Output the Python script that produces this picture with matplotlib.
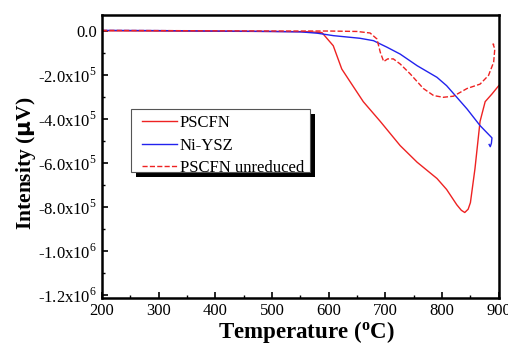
import matplotlib.pyplot as plt
from matplotlib.ticker import MultipleLocator, FuncFormatter
import matplotlib.patches as mpatches

plt.rcParams['font.family'] = 'Liberation Serif'
plt.rcParams['mathtext.fontset'] = 'custom'
plt.rcParams['mathtext.rm'] = 'Liberation Serif'

# PSCFN (reduced)
t_pscfn = [200, 300, 400, 500, 560, 588, 608, 623, 638, 661, 691, 726, 756, 791,
           808, 826, 834, 840, 846, 850, 858, 867, 876, 888, 900]
i_pscfn = [0.03e5, 0.02e5, 0.01e5, 0.0, -0.01e5, -0.05e5, -0.65e5, -1.71e5, -2.3e5,
           -3.2e5, -4.1e5, -5.2e5, -5.96e5, -6.7e5, -7.2e5, -7.9e5, -8.15e5, -8.25e5,
           -8.1e5, -7.8e5, -6.26e5, -4.1e5, -3.2e5, -2.85e5, -2.47e5]

# Ni-YSZ
t_ni = [200, 300, 400, 500, 551, 580, 608, 655, 679, 703, 726, 756, 791, 808,
        826, 844, 867, 888, 887, 885, 883]
i_ni = [0.05e5, 0.04e5, 0.02e5, 0.0, -0.02e5, -0.08e5, -0.19e5, -0.31e5, -0.42e5,
        -0.72e5, -1.03e5, -1.56e5, -2.09e5, -2.47e5, -3.0e5, -3.53e5, -4.29e5,
        -4.85e5, -5.1e5, -5.25e5, -5.15e5]

# PSCFN unreduced
t_un = [200, 300, 400, 500, 600, 650, 673, 685, 691, 697, 704, 714, 726, 744, 767,
        785, 802, 820, 844, 867, 882, 891, 893, 890, 894]
i_un = [0.05e5, 0.04e5, 0.03e5, 0.02e5, 0.02e5, 0.0, -0.07e5, -0.34e5, -0.95e5,
        -1.37e5, -1.25e5, -1.25e5, -1.48e5, -1.94e5, -2.6e5, -2.92e5, -3.0e5,
        -2.95e5, -2.6e5, -2.4e5, -2.0e5, -1.4e5, -0.8e5, -0.57e5, -0.65e5]

fig = plt.figure(figsize=(5.08, 3.45), dpi=100)
ax = fig.add_axes([0.2008, 0.136, 0.781, 0.8205])

ax.plot(t_pscfn, i_pscfn, color='#ee2222', lw=1.0, label='PSCFN')
ax.plot(t_ni, i_ni, color='#2222ee', lw=1.0, label='Ni-YSZ')
ax.plot(t_un, i_un, color='#ee2222', lw=1.0, ls='--', label='PSCFN unreduced')

ax.set_xlim(200, 900)
ax.set_ylim(-1.215e6, 0.075e6)
ax.xaxis.set_major_locator(MultipleLocator(100))
ax.xaxis.set_minor_locator(MultipleLocator(50))
ax.yaxis.set_major_locator(MultipleLocator(2e5))
ax.yaxis.set_minor_locator(MultipleLocator(1e5))


def yfmt(v, pos):
    if abs(v) < 1:
        return '0.0'
    e = 5 if abs(v) < 9.99e5 else 6
    return r'%.1fx10$^{%d}$' % (v / 10**e, e)


ax.yaxis.set_major_formatter(FuncFormatter(yfmt))
ax.tick_params(which='both', direction='in', top=False, right=False, labelsize=12)
ax.tick_params(axis='x', pad=3.5)
ax.tick_params(which='major', length=4, width=1.2)
ax.tick_params(which='minor', length=2, width=1.0)
for s in ax.spines.values():
    s.set_linewidth(1.8)

ax.set_xlabel(r'Temperature ($\mathregular{^o}$C)', fontsize=16.5, fontweight='bold')
ax.set_ylabel(r'Intensity ($\mathbf{\mu}$V)', fontsize=15.5, fontweight='bold')
ax.xaxis.set_label_coords(0.515, -0.075)
ax.yaxis.set_label_coords(-0.162, 0.477)

# legend box with drop shadow, drawn by hand
bx0, bx1, by0, by1 = 0.073, 0.524, 0.445, 0.668
sx = 5 / (0.781 * 508)
sy = 5 / (0.8205 * 345)
ax.add_patch(mpatches.Rectangle((bx0 + sx, by0 - sy), bx1 - bx0, by1 - by0,
                                transform=ax.transAxes, facecolor='black',
                                edgecolor='none', zorder=8))
ax.add_patch(mpatches.Rectangle((bx0, by0), bx1 - bx0, by1 - by0,
                                transform=ax.transAxes, facecolor='white',
                                edgecolor='#555555', lw=0.8, zorder=9))
leg = ax.legend(loc='upper left', bbox_to_anchor=(0.1, 0.646), fontsize=12,
                frameon=False, handlelength=2.1, borderpad=0, labelspacing=0.38,
                handletextpad=0.2, borderaxespad=0)
leg.set_zorder(10)

plt.savefig('out.png', dpi=100)
